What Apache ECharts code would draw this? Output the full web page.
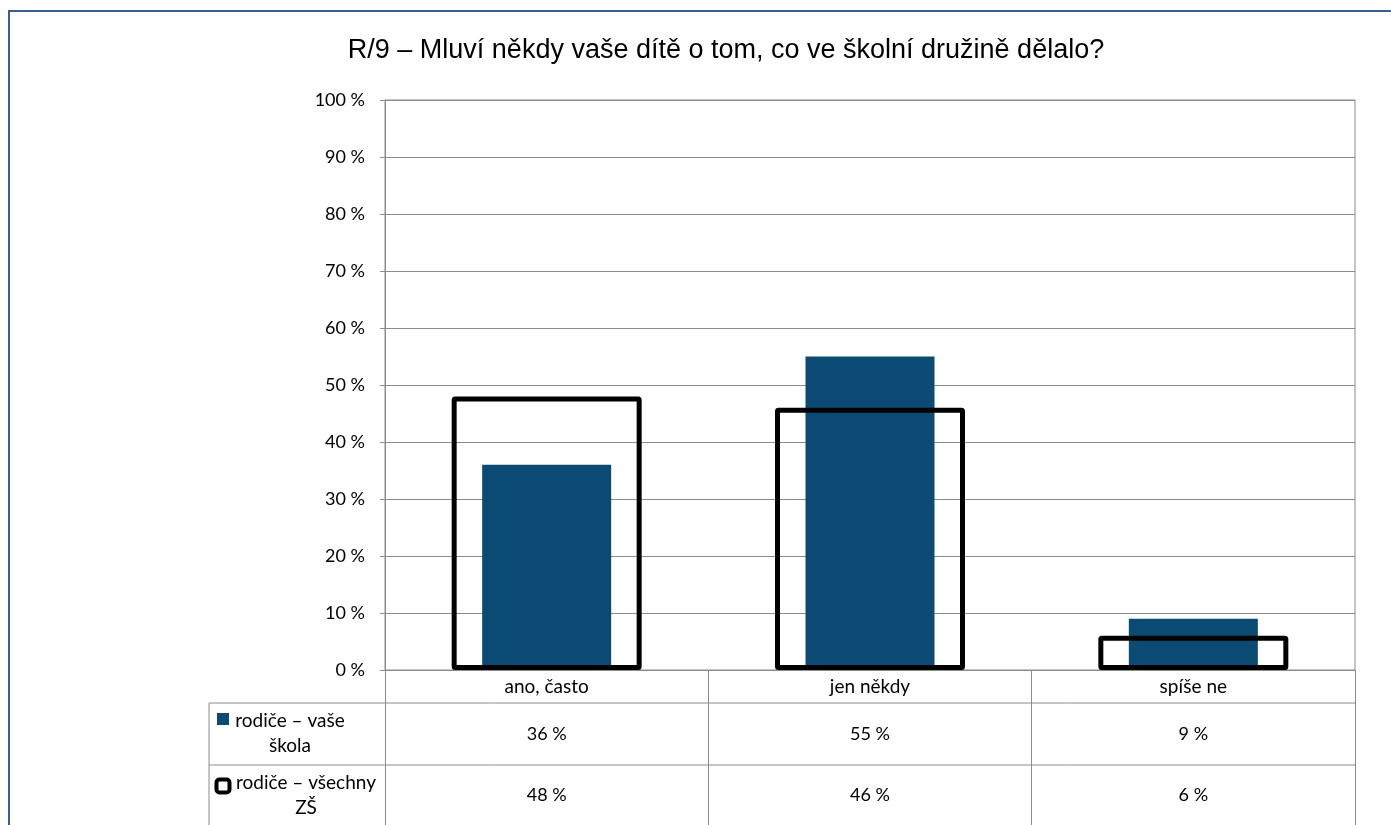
<!DOCTYPE html>
<html><head><meta charset="utf-8">
<script src="https://cdn.jsdelivr.net/npm/echarts@6/dist/echarts.min.js"></script>
<style>html,body{margin:0;padding:0;background:#fff}#c{width:1391px;height:825px}</style>
</head><body><div id="c"></div>
<script>
const titleText = 'R/9 – Mluví někdy vaše dítě o tom, co ve školní družině dělalo?';
const categories = ['ano, často', 'jen někdy', 'spíše ne'];
const seriesNames = ['rodiče – vaše\nškola', 'rodiče – všechny\nZŠ'];
const schoolValues = [36, 55, 9];
const allValues = [48, 46, 6];

const chart = echarts.init(document.getElementById('c'));
const gridLine = '#8c8c8c';
const tableFont = 'Lato, "Open Sans", sans-serif';

chart.setOption({
  animation: false,
  backgroundColor: '#fff',
  title: {
    text: titleText, left: 721, textAlign: 'center', top: 32,
    textStyle: {fontFamily: '"Liberation Sans", Arial, sans-serif', fontSize: 27, fontWeight: 'normal', color: '#000'}
  },
  grid: {left: 385, right: 36, top: 100, bottom: 155, show: true, borderColor: gridLine, borderWidth: 1},
  xAxis: [{
    type: 'category', data: categories,
    axisLine: {lineStyle: {color: gridLine, width: 1}},
    axisTick: {show: true, length: 155, lineStyle: {color: gridLine}},
    axisLabel: {
      margin: 0,
      formatter: (v, i) => '{c|' + v + '}\n{v|' + schoolValues[i] + ' %}\n{v|' + allValues[i] + ' %}',
      rich: {
        c: {fontFamily: tableFont, fontSize: 19, color: '#000', lineHeight: 34},
        v: {fontFamily: tableFont, fontSize: 18, color: '#000', lineHeight: 61}
      }
    }
  }, {
    type: 'category', data: categories, show: false
  }],
  yAxis: {
    type: 'value', min: 0, max: 100, interval: 10,
    axisLine: {show: true, lineStyle: {color: gridLine}},
    axisTick: {show: true, length: 5, lineStyle: {color: gridLine}},
    splitLine: {lineStyle: {color: gridLine, width: 1}},
    axisLabel: {formatter: '{value} %', margin: 20, fontFamily: tableFont, fontSize: 18, color: '#000'}
  },
  series: [{
    name: seriesNames[0], type: 'bar', data: schoolValues, barWidth: 129, xAxisIndex: 0,
    itemStyle: {color: '#0b4a73'}, z: 2
  }, {
    name: seriesNames[1], type: 'bar', data: allValues, barWidth: 190, xAxisIndex: 1,
    itemStyle: {color: 'rgba(0,0,0,0)', borderColor: '#000', borderWidth: 5, borderRadius: 1}, z: 3
  }],
  graphic: [
    {type: 'rect', silent: true, shape: {x: 9, y: 11, width: 1500, height: 1000}, style: {fill: 'none', stroke: '#3a5f8c', lineWidth: 2}},
    {type: 'line', silent: true, shape: {x1: 209, y1: 703, x2: 1355, y2: 703}, style: {stroke: gridLine, lineWidth: 1}},
    {type: 'line', silent: true, shape: {x1: 209, y1: 765, x2: 1355, y2: 765}, style: {stroke: gridLine, lineWidth: 1}},
    {type: 'line', silent: true, shape: {x1: 209, y1: 703, x2: 209, y2: 825}, style: {stroke: gridLine, lineWidth: 1}},
    {type: 'rect', silent: true, shape: {x: 217, y: 713, width: 12, height: 12}, style: {fill: '#0b4a73'}},
    {type: 'text', silent: true, x: 290, y: 708, style: {text: seriesNames[0], font: '19px ' + tableFont, fill: '#000', align: 'center', verticalAlign: 'top', lineHeight: 25}},
    {type: 'rect', silent: true, shape: {x: 216.5, y: 779.5, width: 13, height: 13, r: 3}, style: {fill: '#fff', stroke: '#000', lineWidth: 4}},
    {type: 'text', silent: true, x: 306, y: 770, style: {text: seriesNames[1], font: '19px ' + tableFont, fill: '#000', align: 'center', verticalAlign: 'top', lineHeight: 25}}
  ]
});
</script></body></html>
